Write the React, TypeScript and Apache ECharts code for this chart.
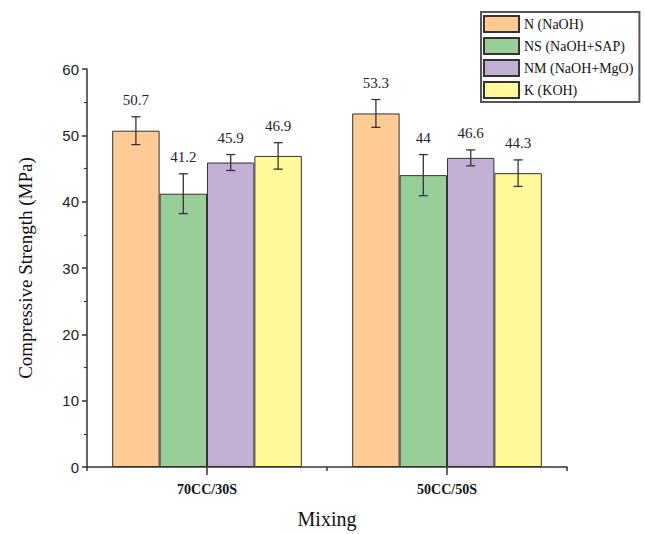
import React, { useEffect, useRef } from 'react';
import * as echarts from 'echarts';

const categories = ['70CC/30S', '50CC/50S'];
const seriesNames = ['N (NaOH)', 'NS (NaOH+SAP)', 'NM (NaOH+MgO)', 'K (KOH)'];
const nValues = [50.7, 53.3];
const nsValues = [41.2, 44];
const nmValues = [45.9, 46.6];
const kValues = [46.9, 44.3];
const nErr = [2.1, 2.1];
const nsErr = [3.0, 3.1];
const nmErr = [1.2, 1.2];
const kErr = [2.0, 2.0];
const colors = ['#FFCA94', '#98CE98', '#C1AFD4', '#FFF99A'];

const SERIF = 'Liberation Serif';
const SANS = 'Liberation Sans';
const GAP = 0.21;

export default function App() {
  const ref = useRef<HTMLDivElement>(null);
  useEffect(() => {
    document.body.style.margin = '0';
    const chart = echarts.init(ref.current!, null, { renderer: 'svg' });
    const values = [nValues, nsValues, nmValues, kValues];
    const errs = [nErr, nsErr, nmErr, kErr];
    const barSeries = seriesNames.map((name, i) => ({
      name,
      type: 'bar',
      data: values[i],
      barGap: '0%',
      barCategoryGap: '21%',
      itemStyle: { color: colors[i], borderColor: '#333', borderWidth: 1 },
      z: 2,
    }));
    const errSeries = seriesNames.map((name, si) => ({
      name: name + ' err',
      type: 'custom',
      z: 4,
      data: categories.map((_, j) => [j, values[si][j], errs[si][j]]),
      encode: { x: 0, y: 1 },
      renderItem: (params: any, api: any) => {
        const ci = api.value(0);
        const v = api.value(1);
        const e = api.value(2);
        const catW = api.size([1, 0])[0];
        const bw = (catW * (1 - GAP)) / 4;
        const cx = api.coord([ci, v])[0] + (si - 1.5) * bw;
        const yHi = api.coord([ci, v + e])[1];
        const yLo = api.coord([ci, v - e])[1];
        const cap = 4.5;
        const ls = { stroke: '#333', lineWidth: 1.3 };
        return {
          type: 'group',
          children: [
            { type: 'line', shape: { x1: cx, y1: yHi, x2: cx, y2: yLo }, style: ls },
            { type: 'line', shape: { x1: cx - cap, y1: yHi, x2: cx + cap, y2: yHi }, style: ls },
            { type: 'line', shape: { x1: cx - cap, y1: yLo, x2: cx + cap, y2: yLo }, style: ls },
            {
              type: 'text',
              x: cx,
              y: yHi - 9,
              style: {
                text: String(v),
                align: 'center',
                verticalAlign: 'bottom',
                textAlign: 'center',
                textVerticalAlign: 'bottom',
                fontSize: 15,
                fontFamily: SERIF,
                fill: '#1f2233',
              },
            },
          ],
        };
      },
    }));
    chart.setOption({
      animation: false,
      backgroundColor: '#fff',
      grid: { left: 87, right: 78, top: 69, bottom: 65, containLabel: false },
      legend: {
        data: seriesNames,
        orient: 'vertical',
        icon: 'rect',
        left: 481,
        top: 12,
        padding: [3, 6, 3, 2],
        itemGap: 4,
        itemWidth: 35,
        itemHeight: 16,
        borderColor: '#555',
        borderWidth: 2,
        backgroundColor: '#fff',
        textStyle: { fontFamily: SERIF, fontSize: 14, color: '#111', lineHeight: 16 },
      },
      xAxis: [
        {
          type: 'category',
          data: categories,
          axisLine: { show: true, lineStyle: { color: '#333', width: 1.5 } },
          axisTick: { show: true, alignWithLabel: true, length: 8, lineStyle: { color: '#333', width: 1.5 } },
          axisLabel: { fontFamily: SERIF, fontWeight: 'bold', fontSize: 14, color: '#111', margin: 15 },
          name: 'Mixing',
          nameLocation: 'middle',
          nameGap: 42,
          nameTextStyle: { fontFamily: SERIF, fontSize: 20, color: '#111' },
        },
        {
          type: 'category',
          data: categories,
          position: 'bottom',
          axisLine: { show: false },
          axisTick: { show: true, length: 4, lineStyle: { color: '#333', width: 1.5 } },
          axisLabel: { show: false },
        },
      ],
      yAxis: {
        type: 'value',
        min: 0,
        max: 60,
        interval: 10,
        axisLine: { show: true, lineStyle: { color: '#333', width: 1.5 } },
        axisTick: { show: true, length: 5, lineStyle: { color: '#333', width: 1.5 } },
        minorTick: { show: true, splitNumber: 2, length: 3, lineStyle: { color: '#333', width: 1.2 } },
        splitLine: { show: false },
        axisLabel: { fontFamily: SANS, fontSize: 15, color: '#222', margin: 8 },
        name: 'Compressive Strength (MPa)',
        nameLocation: 'middle',
        nameGap: 52,
        nameTextStyle: { fontFamily: SERIF, fontSize: 19, color: '#111' },
      },
      series: [...barSeries, ...errSeries],
    });
    return () => chart.dispose();
  }, []);
  return <div ref={ref} style={{ width: 645, height: 534 }} />;
}
